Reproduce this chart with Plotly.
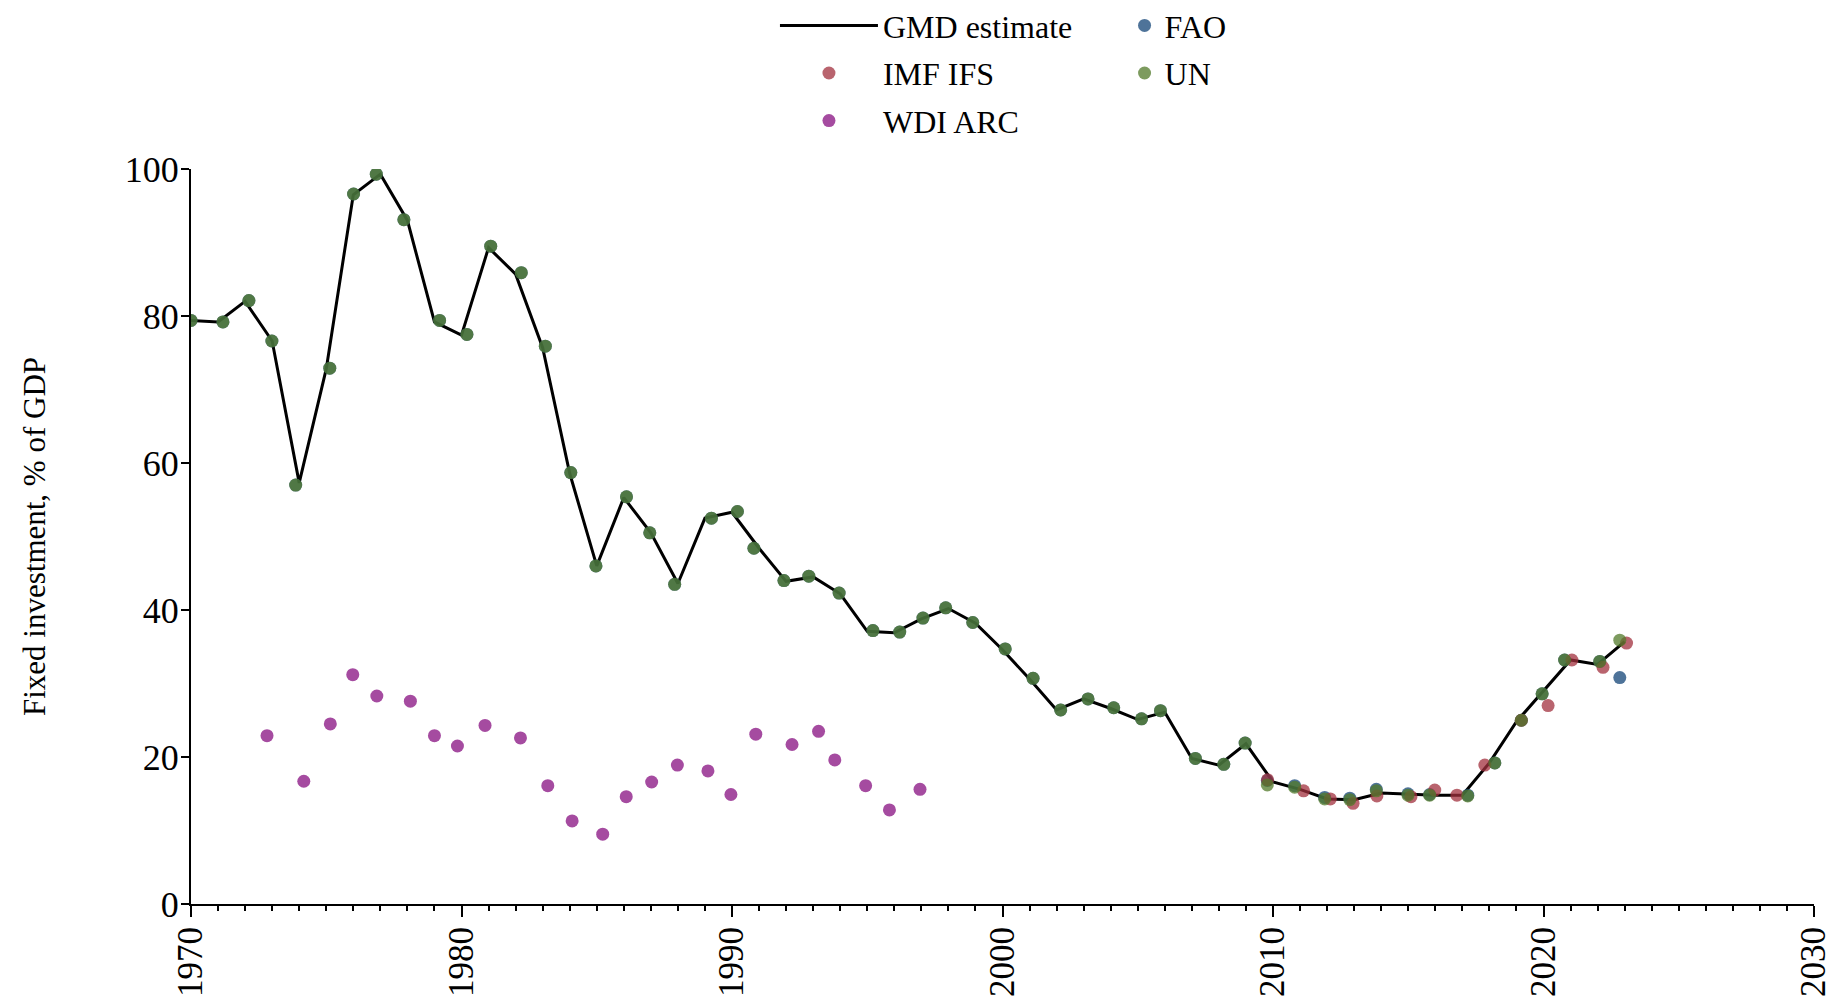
import plotly.graph_objects as go

# ---- data ----
gmd_years = list(range(1970, 2024))
gmd_values = [79.4, 79.2, 82.0, 76.6, 57.3, 72.8, 96.5, 99.3, 93.0, 79.2,
              77.4, 89.3, 85.7, 75.7, 58.6, 46.0, 55.3, 50.5, 43.6, 52.5,
              53.3, 48.4, 43.9, 44.5, 42.2, 37.1, 36.9, 38.8, 40.2, 38.2,
              34.6, 30.6, 26.4, 27.9, 26.6, 25.1, 26.1, 19.8, 18.9, 21.8,
              16.6, 15.6, 14.3, 14.2, 15.1, 14.9, 14.8, 14.8, 19.2, 24.8,
              29.0, 33.2, 32.6, 35.7]

un_years = [1970.0, 1971.18, 1972.14, 1972.99, 1973.87, 1975.13, 1976.01, 1976.85, 1977.87, 1979.19,
            1980.2, 1981.08, 1982.21, 1983.1, 1984.04, 1984.97, 1986.1, 1986.96, 1987.88, 1989.24,
            1990.2, 1990.81, 1991.92, 1992.84, 1993.96, 1995.21, 1996.2, 1997.06, 1997.9, 1998.9,
            2000.1, 2001.13, 2002.15, 2003.16, 2004.11, 2005.14, 2005.84, 2007.13, 2008.18, 2008.97,
            2009.79, 2010.8, 2011.91, 2012.84, 2013.82, 2014.99, 2015.79, 2017.2, 2018.2, 2019.18,
            2019.95, 2020.78, 2022.08, 2022.82]
un_values = [79.4, 79.2, 82.1, 76.6, 57.0, 72.9, 96.6, 99.3, 93.1, 79.4,
             77.5, 89.5, 85.9, 75.9, 58.7, 46.0, 55.4, 50.5, 43.5, 52.5,
             53.4, 48.4, 44.0, 44.6, 42.3, 37.2, 37.0, 38.9, 40.3, 38.3,
             34.7, 30.7, 26.4, 27.9, 26.7, 25.2, 26.3, 19.8, 19.0, 21.9,
             16.2, 15.9, 14.3, 14.2, 15.4, 14.8, 14.8, 14.7, 19.2, 25.0,
             28.6, 33.2, 33.0, 35.9]

fao_years = un_years
fao_values = [79.4, 79.2, 82.1, 76.6, 57.0, 72.9, 96.6, 99.3, 93.1, 79.4,
              77.5, 89.5, 85.9, 75.9, 58.7, 46.0, 55.4, 50.5, 43.5, 52.5,
              53.4, 48.4, 44.0, 44.6, 42.3, 37.2, 37.0, 38.9, 40.3, 38.3,
              34.7, 30.7, 26.4, 27.9, 26.7, 25.2, 26.3, 19.8, 19.0, 21.9,
              16.8, 16.1, 14.5, 14.4, 15.6, 15.0, 14.9, 14.8, 19.2, 25.0,
              28.6, 33.2, 33.0, 30.8]

imf_years = [2009.8, 2011.13, 2012.12, 2012.96, 2013.84, 2015.1, 2015.98, 2016.8, 2017.83, 2019.18,
             2020.17, 2021.05, 2022.2, 2023.07]
imf_values = [16.9, 15.4, 14.3, 13.7, 14.7, 14.6, 15.5, 14.8, 18.9, 25.0,
              27.0, 33.2, 32.2, 35.5]

wdi_years = [1972.81, 1974.17, 1975.15, 1975.98, 1976.87, 1978.11, 1979.0, 1979.85, 1980.87, 1982.18,
             1983.19, 1984.09, 1985.22, 1986.09, 1987.03, 1987.98, 1989.11, 1989.96, 1990.88, 1992.22,
             1993.2, 1993.8, 1994.94, 1995.82, 1996.95]
wdi_values = [22.9, 16.7, 24.5, 31.2, 28.3, 27.6, 22.9, 21.5, 24.3, 22.6,
              16.1, 11.3, 9.5, 14.6, 16.6, 18.9, 18.1, 14.9, 23.1, 21.7,
              23.5, 19.6, 16.1, 12.8, 15.6]

x_ticks = [1970, 1980, 1990, 2000, 2010, 2020, 2030]
y_ticks = [0, 20, 40, 60, 80, 100]

# ---- styles ----
FONT = "Liberation Serif"
C_FAO = "rgba(19,68,119,0.75)"
C_IMF = "rgba(162,48,62,0.75)"
C_UN = "rgba(82,122,42,0.75)"
C_WDI = "rgba(135,15,128,0.75)"
MS = 13

fig = go.Figure()
fig.add_trace(go.Scatter(x=gmd_years, y=gmd_values, mode="lines", name="GMD estimate",
                         line=dict(color="black", width=3), legend="legend", legendgroup="g1"))
fig.add_trace(go.Scatter(x=fao_years, y=fao_values, mode="markers", name="FAO",
                         marker=dict(color=C_FAO, size=MS, line=dict(width=0)),
                         legend="legend2", legendgroup="g2"))
fig.add_trace(go.Scatter(x=imf_years, y=imf_values, mode="markers", name="IMF IFS",
                         marker=dict(color=C_IMF, size=MS, line=dict(width=0)),
                         legend="legend", legendgroup="g3"))
fig.add_trace(go.Scatter(x=un_years, y=un_values, mode="markers", name="UN",
                         marker=dict(color=C_UN, size=MS, line=dict(width=0)),
                         legend="legend2", legendgroup="g4"))
fig.add_trace(go.Scatter(x=wdi_years, y=wdi_values, mode="markers", name="WDI ARC",
                         marker=dict(color=C_WDI, size=MS, line=dict(width=0)),
                         legend="legend", legendgroup="g5"))

fig.update_layout(
    width=1832, height=1000,
    margin=dict(l=183, r=26, t=161, b=104, autoexpand=False),
    paper_bgcolor="white", plot_bgcolor="white",
    font=dict(family=FONT, size=32, color="black"),
    showlegend=True,
    legend=dict(x=0.3598, y=1.2325, xanchor="left", yanchor="top", orientation="v",
                itemwidth=98, tracegroupgap=3, font=dict(family=FONT, size=32, color="black"),
                bgcolor="rgba(0,0,0,0)"),
    legend2=dict(x=0.5752, y=1.2325, xanchor="left", yanchor="top", orientation="v",
                 itemwidth=30, tracegroupgap=3, font=dict(family=FONT, size=32, color="black"),
                 bgcolor="rgba(0,0,0,0)"),
)

fig.update_xaxes(
    range=[1970, 2030], tickmode="array", tickvals=x_ticks, ticktext=[str(v) for v in x_ticks],
    tickangle=-90, ticks="outside", ticklen=11, tickwidth=2, tickcolor="black",
    ticklabeloverflow="allow", ticklabelstandoff=-4,
    showline=True, linewidth=2, linecolor="black", showgrid=False, zeroline=False,
    tickfont=dict(family=FONT, size=35, color="black"),
    minor=dict(dtick=1, tick0=1970, ticks="outside", ticklen=5, tickwidth=2, tickcolor="black", showgrid=False),
)
fig.update_yaxes(
    range=[0, 100], tickmode="array", tickvals=y_ticks, ticktext=[str(v) for v in y_ticks],
    ticks="outside", ticklen=8, tickwidth=2, tickcolor="black", ticklabelstandoff=-5,
    ticklabeloverflow="allow",
    showline=True, linewidth=2, linecolor="black", showgrid=False, zeroline=False,
    tickfont=dict(family=FONT, size=36, color="black"),
    title=dict(text="Fixed investment, % of GDP", font=dict(family=FONT, size=31, color="black"),
               standoff=70),
)

fig.write_html("out.html")
